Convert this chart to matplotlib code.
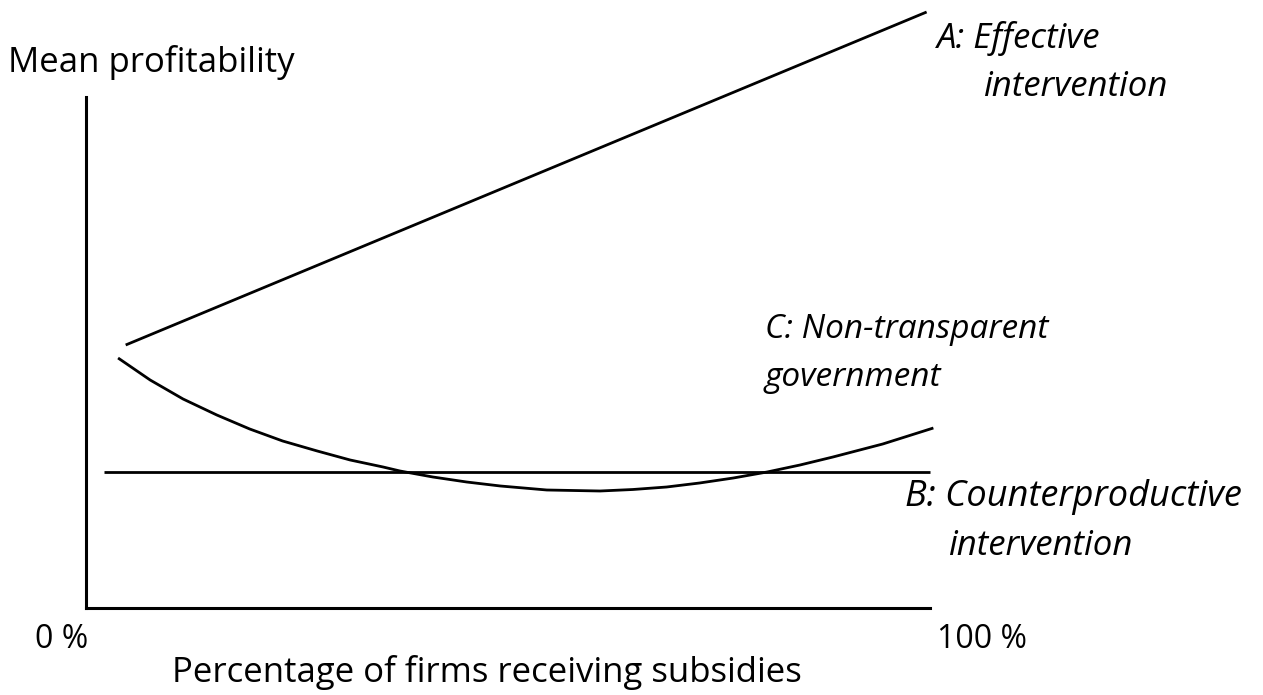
import matplotlib.pyplot as plt

# x = percentage of firms receiving subsidies, y = mean profitability (arbitrary units)
a_x = [4.7, 99.6]
a_y = [2.63, 5.96]

b_x = [2.1, 100.0]
b_y = [1.36, 1.36]

c_x = [3.8, 7.6, 11.5, 15.5, 19.4, 23.3, 27.4, 31.3, 35.2, 37.2, 41.1, 45.1,
       49.1, 54.6, 60.9, 64.8, 68.8, 72.7, 76.7, 80.7, 84.6, 88.5, 94.4, 100.4]
c_y = [2.50, 2.28, 2.09, 1.93, 1.79, 1.67, 1.57, 1.48, 1.41, 1.37, 1.31, 1.26,
       1.22, 1.18, 1.17, 1.185, 1.21, 1.25, 1.30, 1.36, 1.43, 1.51, 1.64, 1.80]

W, H = 1263, 695
fig = plt.figure(figsize=(W / 100, H / 100), dpi=100)
ax = fig.add_axes([86 / W, (H - 608) / H, 844 / W, 608 / H])
ax.set_xlim(0, 100)
ax.set_ylim(0, 6.08)

lw = 2.0
ax.plot(a_x, a_y, color='black', lw=lw, clip_on=False, solid_capstyle='butt')
ax.plot(b_x, b_y, color='black', lw=lw, clip_on=False, solid_capstyle='butt')
ax.plot(c_x, c_y, color='black', lw=lw, clip_on=False, solid_capstyle='butt')

for s in ['top', 'right']:
    ax.spines[s].set_visible(False)
ax.spines['left'].set_bounds(0, 5.11)
ax.spines['left'].set_linewidth(2.2)
ax.spines['bottom'].set_linewidth(2.2)
ax.set_xticks([])
ax.set_yticks([])
ax.patch.set_alpha(0)

font = 'Open Sans'
fs = 25

def px(x, y, s, **kw):
    fig.text(x / W, 1 - y / H, s, family=font, fontsize=kw.pop('size', fs), va='center', **kw)

px(8, 62, 'Mean profitability')
px(35, 640, '0 %', size=23)
px(937, 640, '100 %', size=23)
px(172, 672, 'Percentage of firms receiving subsidies', size=25)

px(937, 38, 'A: Effective', style='italic')
px(983, 87, 'intervention', style='italic')
px(765, 330, 'C: Non-transparent', style='italic', size=24)
px(765, 378, 'government', style='italic', size=24)
px(905, 497, 'B: Counterproductive', style='italic', size=26)
px(948, 546, 'intervention', style='italic')

fig.savefig('out.png', dpi=100, facecolor='white')
